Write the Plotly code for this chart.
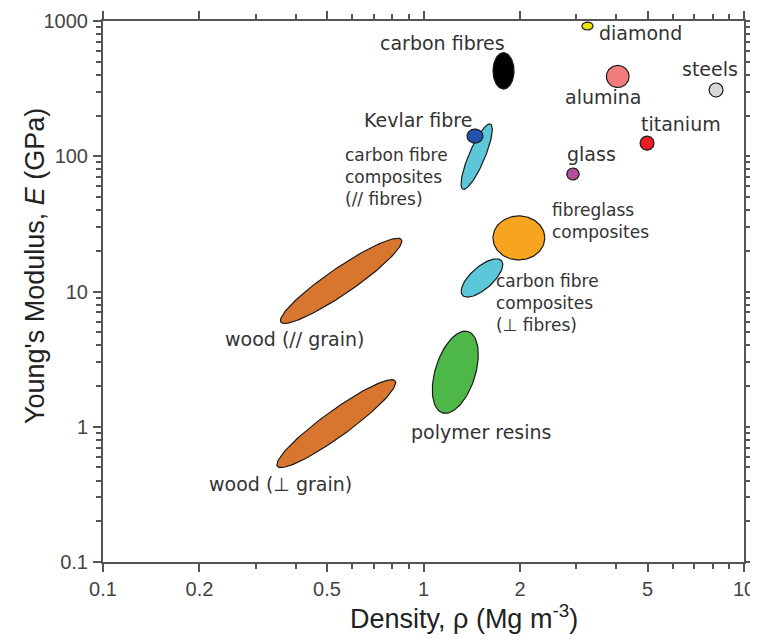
import numpy as np
import plotly.graph_objects as go

# ---------------- data ----------------
materials = ["wood (// grain)", "wood (⊥ grain)", "polymer resins",
             "carbon fibre composites (⊥ fibres)", "fibreglass composites",
             "carbon fibre composites (// fibres)", "Kevlar fibre", "carbon fibres",
             "glass", "titanium", "alumina", "steels", "diamond"]
# property envelope: density (Mg m^-3) and modulus (GPa) at the two ends of each bubble's long axis
rho_a = [0.359, 0.350, 1.146, 1.323, 1.647, 1.327, 1.367, 1.777, 2.80, 4.74, 3.72, 7.78, 3.12]
rho_b = [0.853, 0.816, 1.378, 1.751, 2.39, 1.618, 1.533, 1.777, 3.06, 5.24, 4.38, 8.60, 3.38]
E_a = [5.94, 0.51, 1.266, 9.39, 24.9, 57.0, 141, 314, 73.9, 125, 389, 309, 918]
E_b = [24.2, 2.18, 5.06, 16.9, 24.9, 173, 141, 583, 73.9, 125, 389, 309, 918]

# label texts and anchor positions (density at left edge, modulus at label centre)
label_text = ["wood (// grain)", "wood (⊥ grain)", "polymer resins",
              "carbon fibre<br>composites<br>(⊥ fibres)", "fibreglass<br>composites",
              "carbon fibre<br>composites<br>(// fibres)", "Kevlar fibre", "carbon fibres",
              "glass", "titanium", "alumina", "steels", "diamond"]
label_rho = [0.237, 0.211, 0.901, 1.66, 2.48, 0.561, 0.643, 0.721, 2.76, 4.70, 2.72, 6.31, 3.48]
label_E = [4.46, 0.377, 0.915, 8.22, 33.2, 70.2, 185, 687, 104, 173, 274, 442, 815]

x_tickvals = [0.1, 0.2, 0.5, 1, 2, 5, 10]
x_ticktext = ["0.1", "0.2", "0.5", "1", "2", "5", "10"]
x_minor = [0.3, 0.4, 0.6, 0.7, 0.8, 0.9, 3, 4, 6, 7, 8, 9]
y_tickvals = [0.1, 1, 10, 100, 1000]
y_ticktext = ["0.1", "1", "10", "100", "1000"]
y_minor = [m * 10.0 ** d for d in range(-1, 3) for m in range(2, 10)]

# ---------------- style ----------------
fills = ["#d8752f", "#d8752f", "#4db848", "#5bc7d8", "#f7a51e", "#5bc7d8", "#2353b0",
         "#000000", "#b2509e", "#ee1c24", "#f27c7c", "#d9d9d9", "#f2e600"]
half_width_px = [13, 13, 20, 11, 22, 8, 7, 10.5, 6, 7, 11, 7, 4]

PAGE_OFF = 8                       # default body margin of the html page
W, H = 758 - PAGE_OFF, 639 - PAGE_OFF
PL, PT, PR, PB = 103, 21, 744, 562  # plot area in window pixels
ML, MT = PL - PAGE_OFF, PT - PAGE_OFF
MR, MB = W - (PR - PAGE_OFF), H - (PB - PAGE_OFF)
PX_X = (PR - PL) / 2.0   # pixels per decade on x
PX_Y = (PB - PT) / 4.0   # pixels per decade on y

fig = go.Figure()
t = np.linspace(0, 2 * np.pi, 121)
for i in range(len(materials)):
    p1 = np.array([np.log10(rho_a[i]) * PX_X, np.log10(E_a[i]) * PX_Y])
    p2 = np.array([np.log10(rho_b[i]) * PX_X, np.log10(E_b[i]) * PX_Y])
    c = (p1 + p2) / 2
    a = (p2 - p1) / 2
    n = np.array([-a[1], a[0]]) / np.linalg.norm(a)
    b = n * half_width_px[i]
    X = c[0] + a[0] * np.cos(t) + b[0] * np.sin(t)
    Y = c[1] + a[1] * np.cos(t) + b[1] * np.sin(t)
    fig.add_trace(go.Scatter(
        x=10 ** (X / PX_X), y=10 ** (Y / PX_Y), mode="lines", fill="toself",
        fillcolor=fills[i], line=dict(color="#1a1a1a", width=1.2),
        name=materials[i], hoverinfo="name", showlegend=False))

for i in range(len(materials)):
    multi = "<br>" in label_text[i]
    fig.add_annotation(x=np.log10(label_rho[i]), y=np.log10(label_E[i]), text=label_text[i],
                       showarrow=False, xanchor="left", yanchor="middle", align="left",
                       font=dict(family="DejaVu Sans", size=17 if multi else 19,
                                 color="#333333"))

fig.add_annotation(xref="paper", yref="paper", x=(35 - PL) / (PR - PL),
                   y=(PB - 266) / (PB - PT), text="Young's Modulus, <i>E</i> (GPa)",
                   textangle=-90, showarrow=False, xanchor="center", yanchor="middle",
                   font=dict(family="Liberation Sans", size=27, color="#222222"))
fig.add_annotation(xref="paper", yref="paper", x=(464 - PL) / (PR - PL),
                   y=(PB - 617) / (PB - PT), text="Density, ρ (Mg m<sup>-3</sup>)",
                   showarrow=False, xanchor="center", yanchor="middle",
                   font=dict(family="Liberation Sans", size=27, color="#222222"))

axis_common = dict(showline=True, linecolor="#555555", linewidth=2, mirror="ticks",
                   ticks="outside", tickcolor="#555555", tickwidth=1.5, ticklen=8,
                   showgrid=False, zeroline=False, automargin=False,
                   tickfont=dict(family="Liberation Sans", size=20, color="#444444"))
fig.update_xaxes(type="log", range=[-1, 1], tickmode="array", tickvals=x_tickvals,
                 ticktext=x_ticktext, ticklabelstandoff=0,
                 minor=dict(tickmode="array", tickvals=x_minor, ticks="outside",
                            ticklen=5, tickcolor="#555555", tickwidth=1.5, showgrid=False),
                 **axis_common)
fig.update_yaxes(type="log", range=[-1, 3], tickmode="array", tickvals=y_tickvals,
                 ticktext=y_ticktext, ticklabelstandoff=1,
                 minor=dict(tickmode="array", tickvals=y_minor, ticks="outside",
                            ticklen=5, tickcolor="#555555", tickwidth=1.5, showgrid=False),
                 **axis_common)
fig.update_layout(width=W, height=H, autosize=False,
                  margin=dict(l=ML, r=MR, t=MT, b=MB, autoexpand=False),
                  plot_bgcolor="white", paper_bgcolor="white", showlegend=False)
fig.write_html("out.html")
